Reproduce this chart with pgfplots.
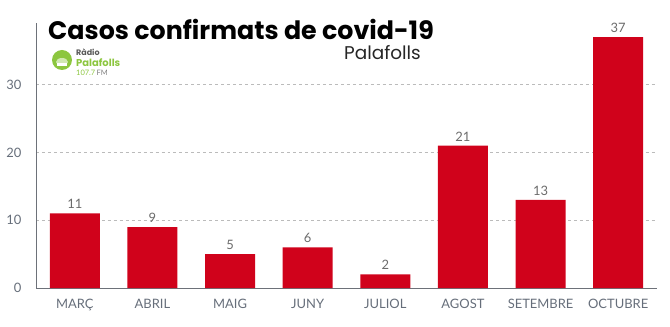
\documentclass[border=0pt]{standalone}
\usepackage{pgfplots}
\pgfplotsset{compat=1.18}
\usepackage{fontspec}
\setmainfont{Lato}
\newfontfamily\titlefont{Poppins}
\definecolor{barred}{HTML}{D0021B}
\definecolor{tickgray}{HTML}{666E7A}
\definecolor{valgray}{HTML}{6B6B6B}
\definecolor{axgray}{HTML}{6D7179}
\definecolor{gridgray}{HTML}{BBBBBB}
\definecolor{logogreen}{HTML}{8CC63F}
\begin{document}
\begin{tikzpicture}
\useasboundingbox (-36bp,-39bp) rectangle (634bp,288bp);
\begin{axis}[
  at={(0,0)}, anchor=south west,
  scale only axis, width=621bp, height=265bp,
  xmin=-0.5, xmax=7.5, ymin=0, ymax=39.1,
  axis x line=bottom, axis y line=left,
  axis line style={axgray, -, line width=0.8pt},
  xtick=data,
  xticklabels={MARÇ,ABRIL,MAIG,JUNY,JULIOL,AGOST,SETEMBRE,OCTUBRE},
  ytick={0,10,20,30},
  ymajorgrids, grid style={gridgray, dashed, line width=0.6pt},
  major tick length=0pt,
  tick label style={tickgray, font=\fontsize{13}{15}\selectfont},
  /pgf/number format/assume math mode=true,
  xticklabel style={yshift=-8bp},
  yticklabel style={xshift=-11bp},
  ybar, bar width=50bp, bar shift=0pt,
  nodes near coords,
  nodes near coords style={valgray, font=\fontsize{13}{15}\selectfont, anchor=south, yshift=1bp},
  clip=false,
]
\addplot[fill=barred, draw=none] coordinates {(0,11) (1,9) (2,5) (3,6) (4,2) (5,21) (6,13) (7,37)};
\end{axis}
\node[anchor=base west, inner sep=0pt, font=\titlefont\bfseries\fontsize{25.4}{28}\selectfont] at (12bp,248bp) {Casos confirmats de covid-19};
\node[anchor=base east, inner sep=0pt, font=\titlefont\fontsize{18.5}{21}\selectfont, text=black!85] at (385bp,228bp) {Palafolls};
\fill[logogreen] (26bp,228bp) circle (10bp);
\fill[logogreen!40!white] (26bp,226bp) ellipse (6bp and 4bp);
\fill[white] (21bp,222bp) rectangle (31bp,225bp);
\node[anchor=base west, inner sep=0pt, font=\titlefont\bfseries\fontsize{8}{9}\selectfont, text=black!65] at (40bp,232bp) {Ràdio};
\node[anchor=base west, inner sep=0pt, font=\titlefont\bfseries\fontsize{10}{11}\selectfont, text=logogreen] at (40bp,221.5bp) {Palafolls};
\node[anchor=base west, inner sep=0pt, font=\fontsize{7.5}{8}\selectfont, text=logogreen] at (40bp,212.5bp) {107.7\,\textcolor{black!50}{FM}};
\end{tikzpicture}
\end{document}
